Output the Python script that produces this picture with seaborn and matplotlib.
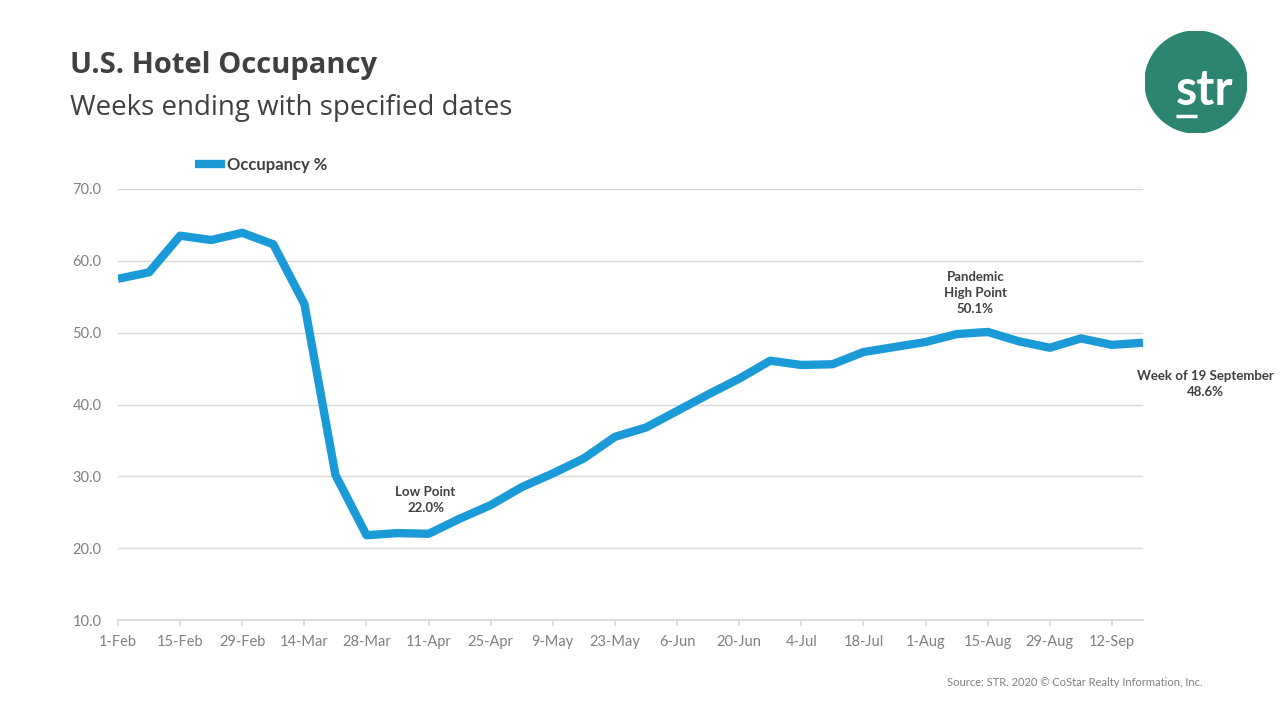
import matplotlib
matplotlib.use("Agg")
import matplotlib.pyplot as plt
import seaborn as sns
import pandas as pd
from matplotlib.patches import Circle

# weeks ending (2020), occupancy %
weeks = ["1-Feb", "8-Feb", "15-Feb", "22-Feb", "29-Feb", "7-Mar", "14-Mar",
         "21-Mar", "28-Mar", "4-Apr", "11-Apr", "18-Apr", "25-Apr", "2-May",
         "9-May", "16-May", "23-May", "30-May", "6-Jun", "13-Jun", "20-Jun",
         "27-Jun", "4-Jul", "11-Jul", "18-Jul", "25-Jul", "1-Aug", "8-Aug",
         "15-Aug", "22-Aug", "29-Aug", "5-Sep", "12-Sep", "19-Sep"]
occupancy = [57.5, 58.4, 63.5, 62.9, 63.9, 62.3, 54.0,
             30.2, 21.8, 22.1, 22.0, 24.1, 26.0, 28.5,
             30.4, 32.5, 35.5, 36.8, 39.1, 41.4, 43.6,
             46.1, 45.5, 45.6, 47.3, 48.0, 48.7, 49.8,
             50.1, 48.8, 47.9, 49.2, 48.3, 48.6]

y_ticks = [10, 20, 30, 40, 50, 60, 70]

BLUE = "#1A9BD7"
DARK = "#404040"
GREY = "#808080"
GRID = "#D9D9D9"
GREEN = "#2C8571"

df = pd.DataFrame({"week": weeks, "occupancy": occupancy})
df["pos"] = range(len(df))

sns.set_theme(style="white")
plt.rcParams["font.family"] = ["Lato", "DejaVu Sans"]

fig = plt.figure(figsize=(12.8, 7.2), dpi=100)
ax = fig.add_axes([118 / 1280, 1 - 620 / 720, (1143 - 118) / 1280, (620 - 189) / 720])

sns.lineplot(data=df, x="pos", y="occupancy", ax=ax, color=BLUE, linewidth=6,
             label="Occupancy %", solid_capstyle="butt", solid_joinstyle="round")

ax.set_xlim(0, len(weeks) - 1)
ax.set_ylim(10, 70)
ax.set_yticks(y_ticks)
ax.set_yticklabels([f"{v:.1f}" for v in y_ticks])
ax.set_xticks(df["pos"][::2])
ax.set_xticklabels(df["week"][::2])
ax.set_xlabel("")
ax.set_ylabel("")
ax.grid(axis="y", color=GRID, linewidth=1)
ax.set_axisbelow(True)
for side in ["left", "right", "top"]:
    ax.spines[side].set_visible(False)
ax.spines["bottom"].set_color(GRID)
ax.tick_params(axis="y", length=0, pad=12, labelsize=10.5, labelcolor=GREY)
ax.tick_params(axis="x", length=4, color=GRID, pad=7, labelsize=10.5, labelcolor=GREY,
               bottom=True)

leg = ax.legend(loc="center left", bbox_to_anchor=(195 / 1280, 1 - 165 / 720),
                bbox_transform=fig.transFigure, frameon=False, borderpad=0,
                borderaxespad=0, handlelength=1.8, handletextpad=0.1,
                prop={"weight": "bold", "size": 12})
for t in leg.get_texts():
    t.set_color(DARK)

# callouts
ax.text(9.9, 26.7, "Low Point\n22.0%", ha="center", va="center", fontsize=9.5,
        fontweight="bold", color=DARK, linespacing=1.4)
ax.text(27.6, 55.5, "Pandemic\nHigh Point\n50.1%", ha="center", va="center",
        fontsize=9.5, fontweight="bold", color=DARK, linespacing=1.4)
ax.text(35.0, 42.8, "Week of 19 September\n48.6%", ha="center", va="center",
        fontsize=9.5, fontweight="bold", color=DARK, linespacing=1.4, clip_on=False)

# titles
fig.text(70 / 1280, 1 - 73 / 720, "U.S. Hotel Occupancy", fontsize=21,
         fontweight="bold", color=DARK, va="baseline", family=["Open Sans", "DejaVu Sans"])
fig.text(70 / 1280, 1 - 115 / 720, "Weeks ending with specified dates", fontsize=20,
         color=DARK, va="baseline", family=["Open Sans", "DejaVu Sans"])
fig.text(1203 / 1280, 1 - 683 / 720, "Source: STR. 2020 \u00a9 CoStar Realty Information, Inc.",
         fontsize=8, color=GREY, ha="right", va="center")

# logo
lax = fig.add_axes([1145 / 1280, 1 - 133 / 720, 102 / 1280, 102 / 720])
lax.set_xlim(-1, 1)
lax.set_ylim(-1, 1)
lax.set_aspect("equal")
lax.axis("off")
lax.add_patch(Circle((0, 0), 1, color=GREEN))
lax.text(0.17, -0.45, "str", color="white", fontsize=35, fontweight="bold",
         ha="center", va="baseline")
lax.plot([-0.39, 0.02], [-0.66, -0.66], color="white", linewidth=2.5, solid_capstyle="butt")

fig.savefig("out.png", dpi=100, facecolor="white")
